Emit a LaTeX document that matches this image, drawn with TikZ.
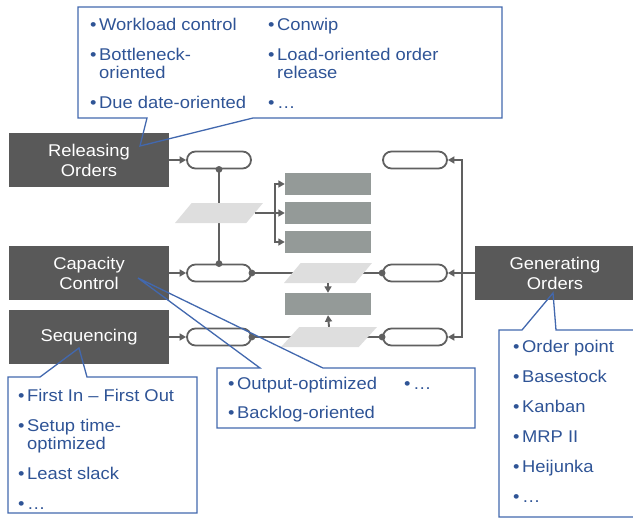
\documentclass[tikz,border=0pt]{standalone}
\usepackage{fontspec}
\setmainfont{Liberation Sans}[FakeStretch=1.08]
\usetikzlibrary{shapes.geometric,arrows.meta}

\definecolor{darkbox}{HTML}{595959}
\definecolor{stockgray}{HTML}{949A98}
\definecolor{paragray}{HTML}{DEDEDE}
\definecolor{linegray}{HTML}{606060}
\definecolor{callblue}{HTML}{4268AE}
\definecolor{textblue}{HTML}{2F5496}

\newcommand\bul{\makebox[9pt][l]{•}}
\newcommand\ind{\hspace*{9pt}}

\tikzset{
  task/.style={fill=darkbox, text=white, minimum width=160pt, minimum height=54pt,
    align=center, inner sep=0pt, font=\fontsize{17}{20}\selectfont},
  pill/.style={draw=linegray, line width=1.8pt, fill=white, rounded corners=8.5pt,
    minimum width=64pt, minimum height=17pt, inner sep=0pt},
  stock/.style={fill=stockgray, minimum width=86pt, minimum height=22pt, inner sep=0pt},
  para/.style={trapezium, trapezium left angle=73, trapezium right angle=107,
    trapezium stretches=true, fill=paragray, minimum height=20pt, inner sep=1pt},
  conn/.style={draw=linegray, line width=1.9pt},
  arr/.style={conn, -{Triangle[length=6.5pt,width=7pt]}},
  dot/.style={fill=linegray},
  callout/.style={draw=callblue, line width=1.3pt, line join=miter},
  list/.style={text=textblue, align=left, inner sep=0pt, anchor=base west,
    font=\fontsize{17}{18}\selectfont}
}

\begin{document}
\begin{tikzpicture}[x=1pt, y=-1pt]
\clip (0,0) rectangle (633,522);

% Order tasks
\node [task] (rel) at (89,160) {Releasing\\Orders};
\node [task] (cap) at (89,273) {Capacity\\Control};
\node [task] (seq) at (89,337) {Sequencing};
\node [task] (gen) at (555,273) {Generating\\Orders};

% Pills
\node [pill] (lp1) at (219,160) {};
\node [pill] (lp2) at (219,273) {};
\node [pill] (lp3) at (219,337) {};
\node [pill] (rp1) at (415,160) {};
\node [pill] (rp2) at (415,273) {};
\node [pill] (rp3) at (415,337) {};

% Stocks
\node [stock] (sA) at (328,184) {};
\node [stock] (sB) at (328,213) {};
\node [stock] (sC) at (328,242) {};
\node [stock] (sD) at (328,304) {};

% Connectors
\draw [arr] (rel.east) -- (lp1.west);
\draw [arr] (cap.east) -- (lp2.west);
\draw [arr] (seq.east) -- (lp3.west);
\draw [conn] (lp1.south) -- (lp2.north);
\draw [conn] (lp2.east) -- (rp2.west);
\draw [conn] (lp3.east) -- (rp3.west);
\fill [dot] (lp1.south) circle (3.4pt);
\fill [dot] (lp2.north) circle (3.4pt);
\fill [dot] (lp2.east) circle (3.4pt);
\fill [dot] (lp3.east) circle (3.4pt);
\fill [dot] (rp2.west) circle (3.4pt);
\fill [dot] (rp3.west) circle (3.4pt);

% Parallelograms
\node [para, minimum width=88pt] (pa) at (219,213) {};
\node [para, minimum width=88pt] (pb) at (328,273) {};
\node [para, minimum width=96pt] (pc) at (329,337) {};

\coordinate (split) at (275,213);
\draw [conn] (pa.east) -- (split);
\draw [arr] (split) -- (sB.west);
\draw [arr] (split) |- (sA.west);
\draw [arr] (split) |- (sC.west);
\draw [arr] (pb.south) -- (sD.north);
\draw [arr] (pc.north) -- (sD.south);

\coordinate (bus) at (462,273);
\draw [arr] (gen.west) -- (rp2.east);
\draw [arr] (bus) |- (rp1.east);
\draw [arr] (bus) |- (rp3.east);

% Callouts
\draw [callout] (78,7) -- (502,7) -- (502,118) -- (253,118) -- (140,146)
  -- (147,118) -- (78,118) -- cycle;
\draw [callout] (217,368) -- (260,368) -- (138,278) -- (323,368) -- (475,368)
  -- (475,428) -- (217,428) -- cycle;
\draw [callout] (8,377) -- (40,377) -- (79,348) -- (87,377) -- (197,377)
  -- (197,513) -- (8,513) -- cycle;
\draw [callout] (499,330) -- (522,330) -- (553,293) -- (556,330) -- (645,330)
  -- (645,517) -- (499,517) -- cycle;

% Callout texts (placed by the baseline of their last line)
\node [list] (relL) at (90,108) {\bul Workload control\\[12pt]
  \bul Bottleneck-\\ \ind oriented\\[12pt] \bul Due date-oriented};
\node [list] (relR) at (268,108) {\bul Conwip\\[12pt]
  \bul Load-oriented order\\ \ind release\\[12pt] \bul\dots};
\node [list] (capL) at (228,418) {\bul Output-optimized\\[11pt] \bul Backlog-oriented};
\node [list] (capR) at (404,389) {\bul\dots};
\node [list] (seqL) at (18,509) {\bul First In – First Out\\[12pt]
  \bul Setup time-\\ \ind optimized\\[12pt] \bul Least slack\\[12pt] \bul\dots};
\node [list] (genL) at (513,502) {\bul Order point\\[12pt] \bul Basestock\\[12pt]
  \bul Kanban\\[12pt] \bul MRP II\\[12pt] \bul Heijunka\\[12pt] \bul\dots};
\end{tikzpicture}
\end{document}
